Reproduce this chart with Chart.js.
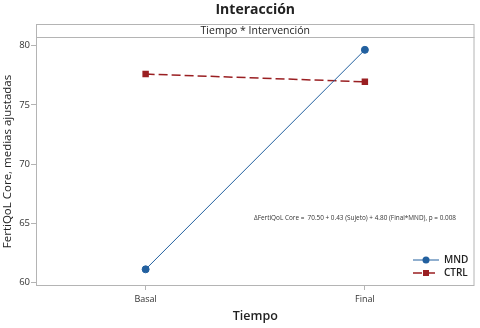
<!DOCTYPE html>
<html>
<head>
<meta charset="utf-8">
<script src="https://cdn.jsdelivr.net/npm/chart.js@4"></script>
<style>
  body { margin: 0; background: #fff; }
  #wrap { width: 480px; height: 328px; }
</style>
</head>
<body>
<div id="wrap"><canvas id="interaccionChart" width="480" height="328"></canvas></div>
<script>
// datos
const categories = ["Basal", "Final"];
const mndValues = [61.1, 79.65];
const ctrlValues = [77.6, 76.95];
const yTicks = [60, 65, 70, 75, 80];
const seriesNames = ["MND", "CTRL"];

const chartTitle = "Interacción";
const panelTitle = "Tiempo * Intervención";
const formula = "\u0394FertiQoL Core =  70.50 + 0.43 (Sujeto) + 4.80 (Final*MND), p = 0.008";

const FONT = "'Open Sans', sans-serif";
const BLUE = "#22609f";
const RED = "#9a1f22";
const FRAME = "#b4b4b4";

// marco, cabecera, título, fórmula y leyenda
const panelPlugin = {
  id: "panel",
  afterDraw: (chart) => {
    const { ctx, chartArea: a } = chart;
    ctx.save();
    ctx.strokeStyle = FRAME;
    ctx.lineWidth = 1;
    ctx.strokeRect(a.left + 0.5, a.top - 12.5, a.right - a.left - 1, 13);
    ctx.strokeRect(a.left + 0.5, a.top + 0.5, a.right - a.left - 1, a.bottom - a.top - 1);

    const cx = (a.left + a.right) / 2;
    ctx.fillStyle = "#222";
    ctx.textAlign = "center";
    ctx.textBaseline = "middle";
    ctx.font = "bold 14px " + FONT;
    ctx.fillText(chartTitle, cx, 10);
    ctx.font = "10.5px " + FONT;
    ctx.fillText(panelTitle, cx, a.top - 6);

    ctx.textAlign = "left";
    ctx.font = "6.4px " + FONT;
    ctx.fillStyle = "#333";
    ctx.fillText(formula, 254, 218);

    // leyenda
    chart.data.datasets.forEach((ds, i) => {
      const y = 260 + i * 13;
      ctx.strokeStyle = ds.borderColor;
      ctx.lineWidth = ds.borderWidth;
      ctx.setLineDash(ds.borderDash || []);
      ctx.beginPath();
      ctx.moveTo(413, y);
      ctx.lineTo(439, y);
      ctx.stroke();
      ctx.setLineDash([]);
      ctx.fillStyle = ds.pointBackgroundColor;
      if (ds.pointStyle === "rect") {
        ctx.fillRect(423, y - 3, 6, 6);
      } else {
        ctx.beginPath();
        ctx.arc(426, y, 3.5, 0, Math.PI * 2);
        ctx.fill();
      }
      ctx.fillStyle = "#222";
      ctx.font = "600 10px " + FONT;
      ctx.fillText(ds.label, 444, y + 0.5);
    });
    ctx.restore();
  },
};

const ctx = document.getElementById("interaccionChart").getContext("2d");
const interaccionChart = new Chart(ctx, {
  type: "line",
  data: {
    datasets: [
      {
        label: seriesNames[0],
        data: mndValues.map((v, i) => ({ x: i, y: v })),
        borderColor: BLUE,
        backgroundColor: BLUE,
        pointBackgroundColor: BLUE,
        pointBorderColor: BLUE,
        borderWidth: 1,
        pointStyle: "circle",
        pointRadius: 3.5,
      },
      {
        label: seriesNames[1],
        data: ctrlValues.map((v, i) => ({ x: i, y: v })),
        borderColor: RED,
        backgroundColor: RED,
        pointBackgroundColor: RED,
        pointBorderColor: RED,
        borderWidth: 1.5,
        borderDash: [9, 4],
        pointStyle: "rect",
        pointRadius: 3.5,
      },
    ],
  },
  options: {
    responsive: false,
    animation: false,
    layout: { padding: { top: 37, right: 2, left: 0, bottom: 0 } },
    plugins: {
      legend: { display: false },
      title: { display: false },
      tooltip: { enabled: false },
    },
    scales: {
      x: {
        type: "linear",
        min: -0.5,
        max: 1.5,
        afterBuildTicks: (scale) => {
          scale.ticks = categories.map((c, i) => ({ value: i }));
        },
        afterFit: (scale) => {
          scale.height = 42;
        },
        ticks: {
          callback: (v) => categories[v],
          color: "#333",
          font: { family: FONT, size: 9 },
          padding: 4,
          maxRotation: 0,
        },
        grid: { display: true, drawOnChartArea: false, tickLength: 4, color: FRAME },
        border: { display: false },
        title: {
          display: true,
          text: "Tiempo",
          color: "#222",
          font: { family: FONT, size: 12.5, weight: "600" },
          padding: { top: 0, bottom: 4 },
        },
      },
      y: {
        min: 59.69,
        max: 80.735,
        afterBuildTicks: (scale) => {
          scale.ticks = yTicks.map((v) => ({ value: v }));
        },
        afterFit: (scale) => {
          scale.width = 36;
        },
        ticks: {
          color: "#333",
          font: { family: FONT, size: 9.5 },
          padding: 1,
        },
        grid: { display: true, drawOnChartArea: false, tickLength: 5, color: FRAME },
        border: { display: false },
        title: {
          display: true,
          text: "FertiQoL Core, medias ajustadas",
          color: "#222",
          font: { family: FONT, size: 11.5 },
          padding: { top: 1, bottom: 0 },
        },
      },
    },
  },
  plugins: [panelPlugin],
});
</script>
</body>
</html>
